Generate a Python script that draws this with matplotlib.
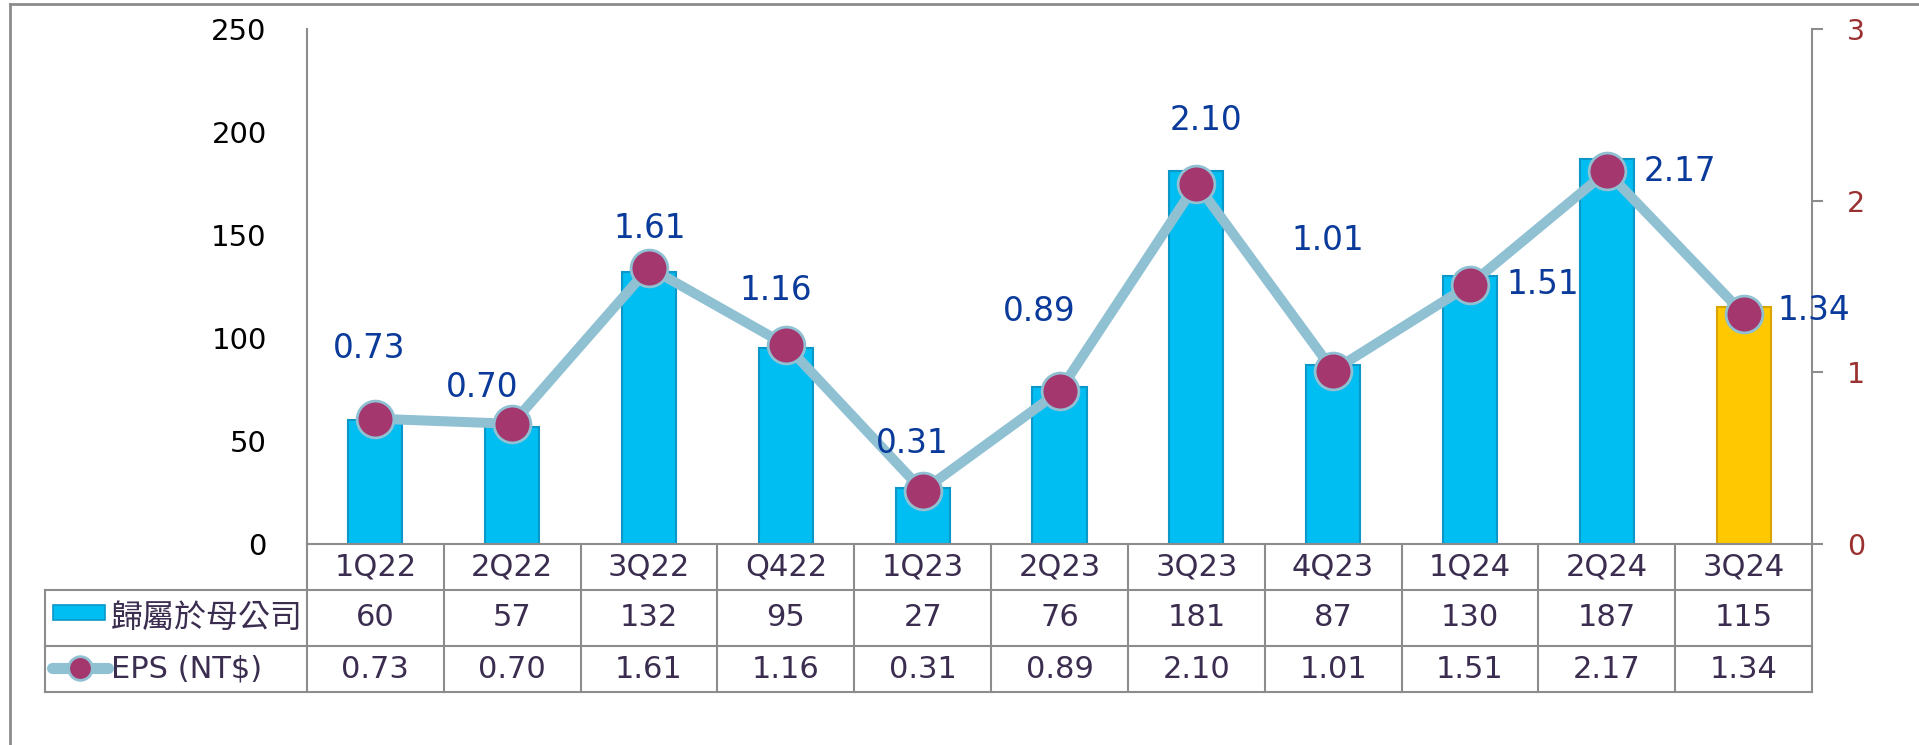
import matplotlib
matplotlib.use("Agg")
import matplotlib.pyplot as plt
import matplotlib.transforms as mtransforms
from matplotlib.lines import Line2D
from matplotlib.patches import Rectangle

plt.rcParams['font.family'] = ['DejaVu Sans', 'Noto Sans CJK TC']

# === Data ===
quarters = ["1Q22", "2Q22", "3Q22", "Q422", "1Q23", "2Q23", "3Q23", "4Q23", "1Q24", "2Q24", "3Q24"]
net_income = [60, 57, 132, 95, 27, 76, 181, 87, 130, 187, 115]
eps = [0.73, 0.70, 1.61, 1.16, 0.31, 0.89, 2.10, 1.01, 1.51, 2.17, 1.34]
bar_label = "歸屬於母公司"
eps_label = "EPS (NT$)"

# label offsets (pixels) and alignment for the EPS values
label_offsets = [(-6, 70), (-30, 36), (1, 39), (-10, 54), (-10, 47), (-20, 80),
                 (10, 63), (-5, 130), (36, 0), (37, 0), (34, 3)]
label_ha = ["center"] * 8 + ["left"] * 3

# === Style ===
W, H, DPI = 1919, 745, 100
CYAN = "#00bdf2"
CYAN_EDGE = "#0b98c8"
GOLD = "#ffc800"
GOLD_EDGE = "#d9a300"
LINE_C = "#8fc1d3"
MARK_C = "#a5376f"
LBL_C = "#0a3a9a"
TBL_TXT = "#3b2d4f"
GRID_C = "#8c8c8c"
RAX_C = "#9b3030"

def fx(px):
    return px / W

def fy(py):
    return 1 - py / H

fig = plt.figure(figsize=(W / DPI, H / DPI), dpi=DPI)
x_left, x_right, y_top, y_base = 307, 1812, 29, 544
ax = fig.add_axes([fx(x_left), fy(y_base), fx(x_right - x_left), (y_base - y_top) / H])
ax2 = ax.twinx()

xs = list(range(len(quarters)))
colors = [CYAN] * (len(quarters) - 1) + [GOLD]
edges = [CYAN_EDGE] * (len(quarters) - 1) + [GOLD_EDGE]
ax.bar(xs, net_income, width=0.395, color=colors, edgecolor=edges, linewidth=1.5, zorder=2)
ax.set_xlim(-0.5, len(quarters) - 0.5)
ax.set_ylim(0, 250)
ax.set_yticks(range(0, 251, 50))
ax.set_xticks([])
ax.tick_params(axis="y", length=0, pad=29, labelsize=21, labelcolor="black")

ax2.plot(xs, eps, color=LINE_C, lw=7.2, solid_capstyle="round", zorder=3,
         marker="o", markersize=26.5, markerfacecolor=MARK_C,
         markeredgecolor=LINE_C, markeredgewidth=2)
ax2.set_ylim(0, 3)
ax2.set_yticks([0, 1, 2, 3])
ax2.tick_params(axis="y", length=8, width=1.5, color=GRID_C, direction="out",
                pad=17, labelsize=20.5, labelcolor=RAX_C)

for a in (ax, ax2):
    a.spines["top"].set_visible(False)
    for s in ("left", "right", "bottom"):
        a.spines[s].set_color(GRID_C)
        a.spines[s].set_linewidth(1.5)
ax.spines["right"].set_visible(False)
ax2.spines["left"].set_visible(False)
ax2.spines["bottom"].set_visible(False)

for i, v in enumerate(eps):
    dx, dy = label_offsets[i]
    ax2.annotate(f"{v:.2f}", (i, v), xytext=(dx, dy), textcoords="offset pixels",
                 ha=label_ha[i], va="center", fontsize=23.5, color=LBL_C, zorder=5)

# === Data table under the chart ===
tr = mtransforms.blended_transform_factory(ax.transData, fig.transFigure)
row_y = [544, 590, 646, 692]
tbl_left = 45
lkw = dict(color=GRID_C, lw=1.5, clip_on=False)
# horizontal lines
for y in row_y[1:]:
    fig.add_artist(Line2D([fx(tbl_left), fx(x_right)], [fy(y), fy(y)], **lkw))
# vertical lines
for k in range(len(quarters) + 1):
    fig.add_artist(Line2D([k - 0.5, k - 0.5], [fy(row_y[0]), fy(row_y[-1])], transform=tr, **lkw))
fig.add_artist(Line2D([fx(tbl_left), fx(tbl_left)], [fy(row_y[1]), fy(row_y[-1])], **lkw))

row_mid = [(row_y[j] + row_y[j + 1]) / 2 for j in range(3)]
for i in range(len(quarters)):
    fig.text(i, fy(row_mid[0]), quarters[i], transform=tr, ha="center", va="center",
             fontsize=22, color=TBL_TXT)
    fig.text(i, fy(row_mid[1]), str(net_income[i]), transform=tr, ha="center", va="center",
             fontsize=22, color=TBL_TXT)
    fig.text(i, fy(row_mid[2]), f"{eps[i]:.2f}", transform=tr, ha="center", va="center",
             fontsize=22, color=TBL_TXT)

# legend keys in the table
fig.add_artist(Rectangle((fx(53), fy(620)), fx(52), 15 / H, facecolor=CYAN,
                         edgecolor=CYAN_EDGE, lw=1.2))
fig.text(fx(111), fy(row_mid[1]), bar_label, ha="left", va="center", fontsize=23, color=TBL_TXT)
fig.add_artist(Line2D([fx(52), fx(108)], [fy(668), fy(668)], color=LINE_C, lw=8,
                      solid_capstyle="round"))
fig.add_artist(Line2D([fx(80)], [fy(668)], marker="o", markersize=17, color=MARK_C,
                      markeredgecolor=LINE_C, markeredgewidth=2))
fig.text(fx(111), fy(row_mid[2]), eps_label, ha="left", va="center", fontsize=22, color=TBL_TXT)

# outer frame (left and top edges visible)
fig.add_artist(Line2D([fx(10), fx(10)], [fy(4), 0], color=GRID_C, lw=2))
fig.add_artist(Line2D([fx(10), 1], [fy(4), fy(4)], color=GRID_C, lw=2))

fig.savefig("out.png", dpi=DPI)
